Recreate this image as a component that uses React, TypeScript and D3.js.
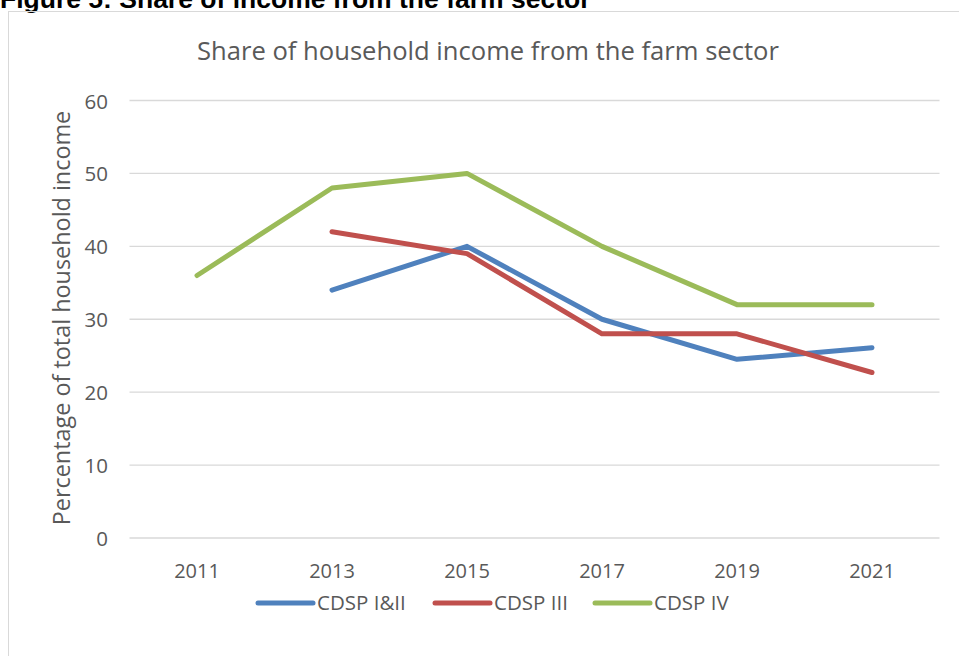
import React from "react";
import * as d3 from "d3";

const years = ["2011", "2013", "2015", "2017", "2019", "2021"];
const seriesNames = ["CDSP I&II", "CDSP III", "CDSP IV"];
const cdsp12: (number | null)[] = [null, 34, 40, 30, 24.5, 26.1];
const cdsp3: (number | null)[] = [null, 42, 39, 28, 28, 22.7];
const cdsp4: (number | null)[] = [36, 48, 50, 40, 32, 32];
const yTicks = [0, 10, 20, 30, 40, 50, 60];
const colors = ["#4F81BD", "#C0504D", "#9BBB59"];

const W = 959;
const H = 656;
const FONT = "'Open Sans', 'Liberation Sans', sans-serif";

export default function App() {
  const x = d3.scaleBand().domain(years).range([129.5, 939.5]);
  const y = d3.scaleLinear().domain([0, 60]).range([538, 100.5]);
  const line = d3
    .line<number | null>()
    .defined((d) => d !== null)
    .x((_, i) => (x(years[i]) as number) + x.bandwidth() / 2)
    .y((d) => y(d as number));
  const allSeries = [cdsp12, cdsp3, cdsp4];
  const legendX = [258, 435, 595];

  return (
    <svg
      width={W}
      height={H}
      style={{ position: "absolute", left: 0, top: 0, background: "#fff" }}
    >
      <text
        x={0}
        y={8}
        fontFamily="'Liberation Sans', Arial, sans-serif"
        fontWeight="bold"
        fontSize={26.5}
        fill="#000"
      >
        Figure 5: Share of income from the farm sector
      </text>
      <rect x={8.5} y={11.5} width={980} height={700} fill="none" stroke="#D9D9D9" strokeWidth={1} />
      <text x={488} y={60} textAnchor="middle" fontFamily={FONT} fontSize={25.6} fill="#595959">
        Share of household income from the farm sector
      </text>
      {yTicks.map((t) => (
        <g key={t}>
          <line x1={129.5} x2={939.5} y1={y(t)} y2={y(t)} stroke="#D9D9D9" strokeWidth={1.3} />
          <text x={108} y={y(t) + 8} textAnchor="end" fontFamily={FONT} fontSize={20.5} fill="#595959">
            {t}
          </text>
        </g>
      ))}
      {years.map((yr) => (
        <text
          key={yr}
          x={(x(yr) as number) + x.bandwidth() / 2}
          y={578}
          textAnchor="middle"
          fontFamily={FONT}
          fontSize={20}
          fill="#595959"
        >
          {yr}
        </text>
      ))}
      <text
        transform={`translate(70,318) rotate(-90)`}
        textAnchor="middle"
        fontFamily={FONT}
        fontSize={23.4}
        fill="#595959"
      >
        Percentage of total household income
      </text>
      {allSeries.map((s, i) => (
        <path
          key={i}
          d={line(s) || ""}
          fill="none"
          stroke={colors[i]}
          strokeWidth={5}
          strokeLinecap="round"
          strokeLinejoin="round"
        />
      ))}
      {seriesNames.map((n, i) => (
        <g key={n}>
          <line
            x1={legendX[i]}
            x2={legendX[i] + 55}
            y1={603}
            y2={603}
            stroke={colors[i]}
            strokeWidth={5}
            strokeLinecap="round"
          />
          <text x={legendX[i] + 59} y={610} fontFamily={FONT} fontSize={20.5} fill="#595959">
            {n}
          </text>
        </g>
      ))}
    </svg>
  );
}
